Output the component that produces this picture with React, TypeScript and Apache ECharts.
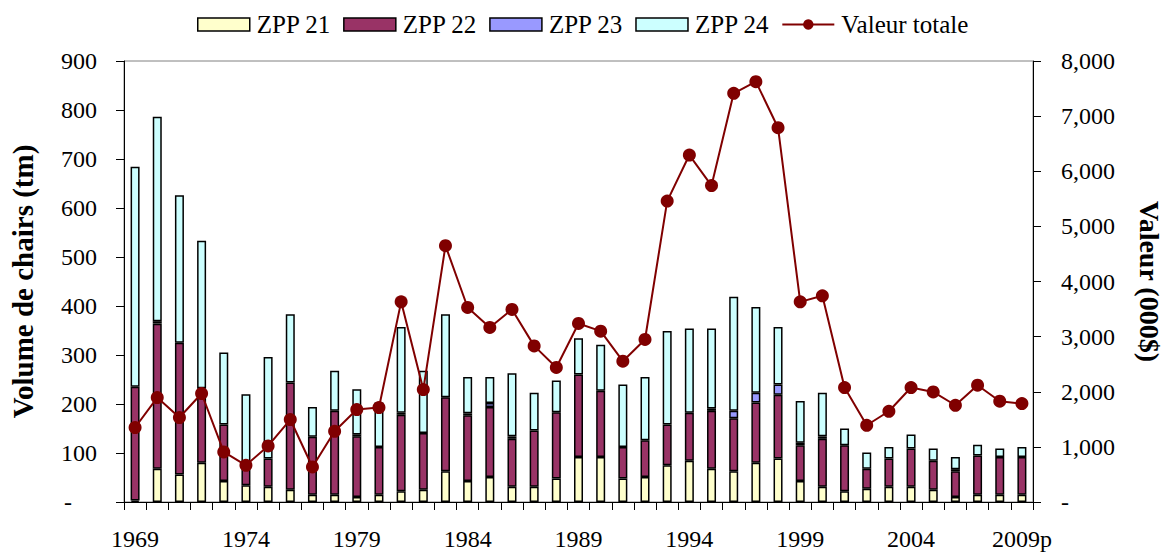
import React, { useEffect, useRef } from "react";
import * as echarts from "echarts";

const years = [
  "1969","1970","1971","1972","1973","1974","1975","1976","1977","1978",
  "1979","1980","1981","1982","1983","1984","1985","1986","1987","1988",
  "1989","1990","1991","1992","1993","1994","1995","1996","1997","1998",
  "1999","2000","2001","2002","2003","2004","2005","2006","2007","2008","2009p",
];

const zpp21 = [3,68,56,80,43,34,31,25,15,15,10,15,22,25,63,43,51,31,31,48,92,92,48,51,75,84,68,63,80,89,43,31,22,27,31,31,25,10,15,15,15];
const zpp22 = [232,296,269,152,115,36,58,219,118,171,124,97,156,116,151,134,143,98,115,135,168,135,64,75,83,98,118,108,123,130,73,98,94,41,58,78,59,53,80,77,77];
const zpp23 = [0,5,0,0,0,0,0,0,0,0,4,0,4,0,0,4,8,5,0,0,0,0,0,0,0,0,5,15,20,21,5,5,0,0,0,0,0,4,0,0,0];
const zpp24 = [449,417,301,301,147,150,207,139,61,82,92,91,175,127,169,74,53,129,77,65,74,94,128,129,191,172,163,233,175,117,85,89,34,33,23,29,25,25,22,17,20];
const valeurTotale = [1351,1895,1532,1968,908,666,1017,1496,635,1283,1677,1713,3631,2040,4650,3529,3166,3493,2832,2440,3239,3099,2554,2948,5459,6294,5740,7414,7625,6790,3631,3740,2077,1392,1646,2077,1997,1755,2118,1828,1786];

const FONT = "Liberation Serif";

function fmtThousands(v: number) {
  return String(v).replace(/\B(?=(\d{3})+(?!\d))/g, ",");
}

export default function App() {
  const ref = useRef<HTMLDivElement>(null);
  useEffect(() => {
    document.body.style.margin = "0";
    if (!ref.current) return;
    const chart = echarts.init(ref.current, null, { renderer: "svg" });
    const barStyle = (color: string) => ({ color, borderColor: "#000", borderWidth: 1.5 });
    const nz = (arr: number[]) => arr.map((v) => (v === 0 ? null : v));
    const barSeries = (name: string, data: number[], color: string) => ({
      name,
      type: "bar",
      stack: "vol",
      data: nz(data),
      barWidth: 9,
      itemStyle: barStyle(color),
      emphasis: { disabled: true },
    });
    chart.setOption({
      animation: false,
      textStyle: { fontFamily: FONT, color: "#000" },
      legend: {
        top: 7,
        left: 192,
        itemWidth: 52,
        itemHeight: 13,
        itemGap: 12,
        textStyle: { fontFamily: FONT, fontSize: 25, color: "#000", padding: [0, 0, 0, 2] },
        data: [
          { name: "ZPP 21", icon: "rect", itemStyle: barStyle("#FFFFCC") },
          { name: "ZPP 22", icon: "rect", itemStyle: barStyle("#993366") },
          { name: "ZPP 23", icon: "rect", itemStyle: barStyle("#9999FF") },
          { name: "ZPP 24", icon: "rect", itemStyle: barStyle("#CCFFFF") },
          { name: "Valeur totale" },
        ],
      },
      grid: {
        left: 124,
        right: 131,
        top: 61,
        bottom: 52,
        show: true,
        borderColor: "#808080",
        borderWidth: 1,
        backgroundColor: "transparent",
      },
      xAxis: {
        type: "category",
        data: years,
        boundaryGap: true,
        axisLine: { lineStyle: { color: "#000", width: 1 } },
        axisTick: { show: true, interval: 0, length: 8, lineStyle: { color: "#000" } },
        axisLabel: {
          interval: 4,
          fontSize: 24,
          fontFamily: FONT,
          color: "#000",
          margin: 25,
        },
      },
      yAxis: [
        {
          type: "value",
          min: 0,
          max: 900,
          interval: 100,
          name: "Volume de chairs (tm)",
          nameLocation: "middle",
          nameRotate: 90,
          nameGap: 87,
          nameTextStyle: { fontFamily: FONT, fontSize: 29, fontWeight: "bold", color: "#000" },
          axisLine: { show: true, lineStyle: { color: "#000", width: 1 } },
          axisTick: { show: true, length: 8, lineStyle: { color: "#000" } },
          splitLine: { show: false },
          axisLabel: {
            fontSize: 24,
            fontFamily: FONT,
            color: "#000",
            margin: 27,
            formatter: (v: number) => (v === 0 ? "{d|-}" : String(v)),
            rich: { d: { fontSize: 24, fontFamily: FONT, color: "#000", padding: [0, 25, 0, 0] } },
          },
        },
        {
          type: "value",
          min: 0,
          max: 8000,
          interval: 1000,
          position: "right",
          name: "Valeur (000$)",
          nameLocation: "middle",
          nameRotate: -90,
          nameGap: 102,
          nameTextStyle: { fontFamily: FONT, fontSize: 28, fontWeight: "bold", color: "#000" },
          axisLine: { show: true, lineStyle: { color: "#000", width: 1 } },
          axisTick: { show: true, length: 8, lineStyle: { color: "#000" } },
          splitLine: { show: false },
          axisLabel: {
            fontSize: 24,
            fontFamily: FONT,
            color: "#000",
            margin: 28,
            formatter: (v: number) => (v === 0 ? "-" : fmtThousands(v)),
          },
        },
      ],
      series: [
        barSeries("ZPP 21", zpp21, "#FFFFCC"),
        barSeries("ZPP 22", zpp22, "#993366"),
        barSeries("ZPP 23", zpp23, "#9999FF"),
        barSeries("ZPP 24", zpp24, "#CCFFFF"),
        {
          name: "Valeur totale",
          type: "line",
          yAxisIndex: 1,
          data: valeurTotale,
          symbol: "circle",
          symbolSize: 13,
          z: 5,
          lineStyle: { color: "#800000", width: 2 },
          itemStyle: { color: "#800000" },
          emphasis: { disabled: true },
        },
      ],
    });
    return () => chart.dispose();
  }, []);
  return <div ref={ref} style={{ width: 1171, height: 554 }} />;
}
